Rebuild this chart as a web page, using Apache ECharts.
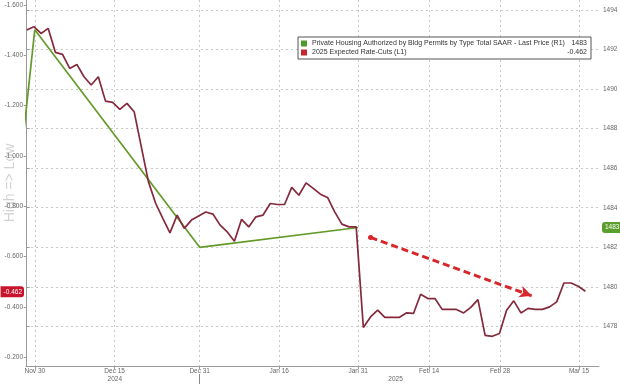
<!DOCTYPE html>
<html>
<head>
<meta charset="utf-8">
<script src="https://cdn.jsdelivr.net/npm/echarts@6/dist/echarts.min.js"></script>
<style>
html,body{margin:0;padding:0;background:#fff;}
#chart{width:620px;height:384px;}
</style>
</head>
<body>
<div id="chart"></div>
<script>
// ---- data ----
const seriesNames = [
  'Private Housing Authorized by Bldg Permits by Type Total SAAR - Last Price (R1)',
  '2025 Expected Rate-Cuts (L1)'
];
const lastValues = ['1483', '-0.462'];

// x positions are trading-day positions (0 = first observation)
const tickPos = [1.13, 12.28, 24.15, 35.25, 46.28, 56.17, 66.08, 77.11];
const tickLabels = ['Nov 30', 'Dec 15', 'Dec 31', 'Jan 16', 'Jan 31', 'Feb 14', 'Feb 28', 'Mar 15'];
const yearPos = [12.3, 51.5];
const yearLabels = ['2024', '2025'];
const yearBreaks = [24.15];

const leftTicks = [-1.6, -1.4, -1.2, -1.0, -0.8, -0.6, -0.4, -0.2];
const rightTicks = [1478, 1480, 1482, 1484, 1486, 1488, 1490, 1492, 1494];
const rightTickMarks = [1476, 1478, 1480, 1482, 1484, 1486, 1488, 1490, 1492, 1494];

// 2025 expected rate cuts (left axis), one value per trading day
const rateCuts = [
  -1.501, -1.514, -1.487, -1.507, -1.412, -1.404, -1.348, -1.364, -1.315, -1.282,
  -1.315, -1.218, -1.213, -1.185, -1.209, -1.176, -1.036, -0.897, -0.812, -0.752,
  -0.694, -0.765, -0.712, -0.745, -0.761, -0.777, -0.769, -0.725, -0.698, -0.661,
  -0.748, -0.718, -0.758, -0.765, -0.811, -0.807, -0.807, -0.875, -0.844, -0.893,
  -0.871, -0.848, -0.835, -0.778, -0.729, -0.718, -0.718, -0.318, -0.360, -0.387,
  -0.358, -0.358, -0.358, -0.376, -0.374, -0.450, -0.433, -0.433, -0.390, -0.390,
  -0.390, -0.376, -0.398, -0.429, -0.287, -0.283, -0.294, -0.387, -0.424, -0.376,
  -0.394, -0.390, -0.390, -0.400, -0.420, -0.495, -0.495, -0.482, -0.462
];

// housing permits (right axis), monthly: Oct 31, Nov 30, Dec 31, Jan 31
const permitX = [-20.9, 1.13, 24.15, 46.28];
const permitVals = [1419, 1493, 1482, 1483];

// trend arrow annotation [x position, left-axis value]
const arrowStart = [48.0, -0.676];
const arrowEnd = [70.5, -0.444];

// ---- chart ----
const FONT = 'Liberation Sans';
const chart = echarts.init(document.getElementById('chart'), null, {renderer: 'canvas'});

function lookup(pos, labels) {
  return function (v) {
    const i = pos.findIndex(p => Math.abs(p - v) < 1e-6);
    return i >= 0 ? labels[i] : '';
  };
}

const gridLine = {show: true, lineStyle: {color: '#c8c8c8', type: [2, 3], width: 1}};
const axisGray = '#9a9a9a';
const labelGray = '#666';
const lastPermit = permitVals[permitVals.length - 1];
const lastPermitX = permitX[permitX.length - 1];
const hiddenLine = {color: 'rgba(0,0,0,0)', width: 1, type: 'solid'};

chart.setOption({
  animation: false,
  backgroundColor: '#fff',
  grid: {left: 26, right: 21, top: 0, bottom: 18, containLabel: false, outerBoundsMode: 'none'},
  legend: {
    orient: 'vertical',
    left: 298,
    top: 37,
    padding: [3, 4, 3, 3],
    itemGap: 2,
    itemWidth: 6,
    itemHeight: 6,
    icon: 'rect',
    borderColor: '#555',
    borderWidth: 1,
    backgroundColor: '#fff',
    selectedMode: false,
    data: [
      {name: seriesNames[0], itemStyle: {color: '#4f9a2d'}},
      {name: seriesNames[1], itemStyle: {color: '#c1272d'}}
    ],
    formatter: function (name) {
      const i = seriesNames.indexOf(name);
      return '{a|' + name + '}{b|' + lastValues[i] + '}';
    },
    textStyle: {
      fontFamily: FONT,
      fontSize: 7,
      color: '#333',
      rich: {
        a: {width: 259, fontFamily: FONT, fontSize: 7, color: '#333'},
        b: {width: 16, align: 'right', fontFamily: FONT, fontSize: 7, color: '#333'}
      }
    }
  },
  xAxis: [
    {
      type: 'value',
      min: -0.1,
      max: 79.9,
      position: 'bottom',
      axisLine: {show: true, lineStyle: {color: axisGray}},
      axisTick: {show: true, length: 3, customValues: tickPos, lineStyle: {color: axisGray}},
      axisLabel: {
        customValues: tickPos,
        formatter: lookup(tickPos, tickLabels),
        fontFamily: FONT, fontSize: 6.5, color: labelGray, margin: 2
      },
      splitLine: gridLine
    },
    {
      type: 'value',
      min: -0.1,
      max: 79.9,
      position: 'bottom',
      offset: 8,
      axisLine: {show: false},
      axisTick: {show: true, length: 10, customValues: yearBreaks, lineStyle: {color: '#888'}},
      axisLabel: {
        customValues: yearPos,
        formatter: lookup(yearPos, yearLabels),
        fontFamily: FONT, fontSize: 6.5, color: labelGray, margin: 2
      },
      splitLine: {show: false}
    }
  ],
  yAxis: [
    {
      type: 'value',
      inverse: true,
      min: -1.62,
      max: -0.165,
      position: 'left',
      name: 'High => Low',
      nameLocation: 'middle',
      nameGap: 9,
      nameRotate: 90,
      nameMoveOverlap: false,
      nameTextStyle: {color: '#d2d2d2', fontFamily: FONT, fontSize: 14},
      axisLine: {show: true, lineStyle: {color: axisGray}},
      axisTick: {show: true, length: 3, customValues: leftTicks, lineStyle: {color: axisGray}},
      axisLabel: {
        customValues: leftTicks,
        formatter: v => v.toFixed(3),
        fontFamily: FONT, fontSize: 6.5, color: labelGray, margin: 3
      },
      splitLine: {show: false}
    },
    {
      type: 'value',
      min: 1476,
      max: 1494.5,
      position: 'right',
      axisLine: {show: true, lineStyle: {color: axisGray}},
      axisTick: {show: true, length: 3, customValues: rightTickMarks, lineStyle: {color: axisGray}},
      axisLabel: {
        customValues: rightTicks,
        formatter: v => String(v),
        fontFamily: FONT, fontSize: 6.5, color: labelGray, margin: 4
      },
      splitLine: gridLine
    }
  ],
  series: [
    {
      name: seriesNames[0],
      type: 'line',
      xAxisIndex: 0,
      yAxisIndex: 1,
      data: permitX.map((x, i) => [x, permitVals[i]]),
      showSymbol: false,
      symbol: 'none',
      clip: true,
      lineStyle: {color: '#649a2a', width: 1.7},
      itemStyle: {color: '#649a2a'},
      z: 2
    },
    {
      name: seriesNames[1],
      type: 'line',
      xAxisIndex: 0,
      yAxisIndex: 0,
      data: rateCuts.map((v, i) => [i, v]),
      showSymbol: false,
      symbol: 'none',
      clip: false,
      lineStyle: {color: '#842a3c', width: 1.7},
      itemStyle: {color: '#842a3c'},
      z: 3,
      markLine: {
        silent: true,
        data: [
          {
            yAxis: rateCuts[rateCuts.length - 1],
            symbol: 'none',
            lineStyle: hiddenLine,
            label: {
              show: true, position: 'start', distance: 2,
              formatter: lastValues[1],
              backgroundColor: '#c8142c', color: '#fff', opacity: 1,
              fontFamily: FONT, fontSize: 6.5,
              padding: [2, 2, 2, 3], borderRadius: [0, 3, 3, 0]
            }
          },
          [
            {coord: arrowStart, symbol: 'circle', symbolSize: 5},
            {coord: arrowEnd, symbol: 'arrow', symbolSize: [9, 12]}
          ]
        ],
        lineStyle: {color: '#d8262a', width: 3, type: [7, 4]},
        label: {show: false}
      }
    },
    {
      // carrier for the right-axis last-price badge (not clipped)
      name: 'permit-last',
      type: 'line',
      xAxisIndex: 0,
      yAxisIndex: 1,
      data: [[lastPermitX, lastPermit]],
      showSymbol: false,
      symbol: 'none',
      clip: false,
      lineStyle: {color: 'rgba(0,0,0,0)'},
      markLine: {
        silent: true,
        symbol: 'none',
        data: [{
          yAxis: lastPermit,
          lineStyle: hiddenLine,
          label: {
            show: true, position: 'end', distance: 3,
            formatter: lastValues[0],
            backgroundColor: '#5a9e2e', color: '#fff', opacity: 1,
            fontFamily: FONT, fontSize: 6.5,
            padding: [2, 3, 2, 3], borderRadius: [3, 0, 0, 3]
          }
        }]
      }
    }
  ]
});
</script>
</body>
</html>
